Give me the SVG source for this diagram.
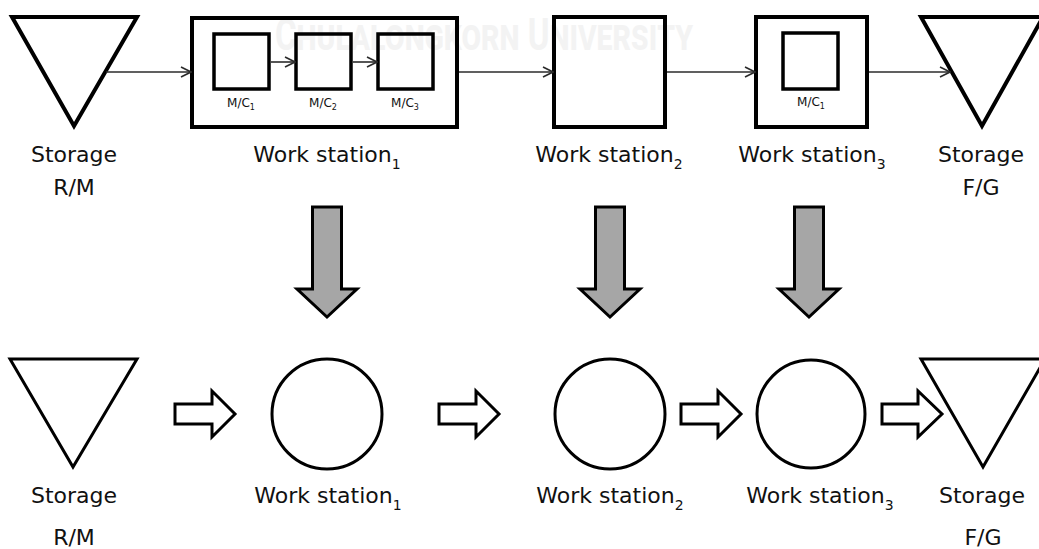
<svg xmlns="http://www.w3.org/2000/svg" width="1039" height="549" viewBox="0 0 1039 549">
  <style>
    .bg { fill: #ffffff; }
    .mark { fill: #f3f3f3; font-family: "Roboto", "DejaVu Sans", sans-serif; font-weight: 700; font-variant: small-caps; font-size: 44px; }
    .thick { fill: none; stroke: #000000; stroke-width: 4; stroke-linejoin: miter; }
    .mid { fill: none; stroke: #000000; stroke-width: 3.5; stroke-linejoin: miter; }
    .thin { fill: none; stroke: #000000; stroke-width: 3; stroke-linejoin: miter; }
    .flow { fill: none; stroke: #2b2b2b; stroke-width: 1.6; marker-end: url(#chev); }
    .down { fill: #a6a6a6; stroke: #000000; stroke-width: 3; stroke-linejoin: miter; }
    .hollow { fill: #ffffff; stroke: #000000; stroke-width: 3; stroke-linejoin: miter; }
    .lbl { font-family: "DejaVu Sans", "Noto Sans", sans-serif; font-size: 22px; fill: #111111; text-anchor: middle; }
    .sub { font-size: 14px; }
    .mc { font-family: "DejaVu Sans", "Noto Sans", sans-serif; font-size: 12px; fill: #111111; text-anchor: middle; }
    .mcsub { font-size: 8px; }
  </style>
  <defs>
    <marker id="chev" viewBox="0 0 12 12" refX="11" refY="6" markerWidth="12" markerHeight="12" markerUnits="userSpaceOnUse" orient="auto">
      <path d="M1,1 L11,6 L1,11" fill="none" stroke="#2b2b2b" stroke-width="1.6"/>
    </marker>
  </defs>

  <rect class="bg" x="0" y="0" width="1039" height="549"/>

  <!-- faint background institution mark -->
  <text id="mark" class="mark" x="275" y="50" textLength="418" lengthAdjust="spacingAndGlyphs">Chulalongkorn University</text>

  <!-- top row: process layout -->
  <g id="storage-rm-top">
    <polygon class="thick" points="12,17 137,17 74,126"/>
    <text class="lbl" x="74" y="162">Storage</text>
    <text class="lbl" x="74" y="195">R/M</text>
  </g>

  <g id="ws1-top">
    <rect class="thick" x="192" y="18" width="265" height="109"/>
    <rect class="mid" x="214" y="34" width="55" height="55"/>
    <rect class="mid" x="296" y="34" width="55" height="55"/>
    <rect class="mid" x="378" y="34" width="55" height="55"/>
    <text class="mc" x="241" y="107">M/C<tspan class="mcsub" dy="3">1</tspan></text>
    <text class="mc" x="323" y="107">M/C<tspan class="mcsub" dy="3">2</tspan></text>
    <text class="mc" x="405" y="107">M/C<tspan class="mcsub" dy="3">3</tspan></text>
    <text class="lbl" x="327" y="162">Work station<tspan class="sub" dy="7">1</tspan></text>
  </g>

  <g id="ws2-top">
    <rect class="thick" x="554" y="17" width="111" height="110"/>
    <text class="lbl" x="609" y="162">Work station<tspan class="sub" dy="7">2</tspan></text>
  </g>

  <g id="ws3-top">
    <rect class="thick" x="756" y="17" width="111" height="110"/>
    <rect class="mid" x="783" y="33" width="55" height="56"/>
    <text class="mc" x="811" y="106">M/C<tspan class="mcsub" dy="3">1</tspan></text>
    <text class="lbl" x="812" y="162">Work station<tspan class="sub" dy="7">3</tspan></text>
  </g>

  <g id="storage-fg-top">
    <polygon class="thick" points="921,17 1043,17 982,126"/>
    <text class="lbl" x="981" y="162">Storage</text>
    <text class="lbl" x="981" y="195">F/G</text>
  </g>

  <!-- bottom row: simplified flow -->
  <g id="storage-rm-bottom">
    <polygon class="thin" points="10,359 137,359 73,467"/>
    <text class="lbl" x="74" y="503">Storage</text>
    <text class="lbl" x="74" y="545">R/M</text>
  </g>

  <g id="ws1-bottom">
    <circle class="thin" cx="327" cy="414" r="55"/>
    <text class="lbl" x="328" y="503">Work station<tspan class="sub" dy="7">1</tspan></text>
  </g>

  <g id="ws2-bottom">
    <circle class="thin" cx="610" cy="414" r="55"/>
    <text class="lbl" x="610" y="503">Work station<tspan class="sub" dy="7">2</tspan></text>
  </g>

  <g id="ws3-bottom">
    <circle class="thin" cx="811" cy="414" r="54"/>
    <text class="lbl" x="820" y="503">Work station<tspan class="sub" dy="7">3</tspan></text>
  </g>

  <g id="storage-fg-bottom">
    <polygon class="thin" points="921,359 1045,359 983,467"/>
    <text class="lbl" x="982" y="503">Storage</text>
    <text class="lbl" x="983" y="545">F/G</text>
  </g>

  <!-- connectors, drawn last so they sit above the station boxes -->
  <g id="connectors">
    <line class="flow" x1="106" y1="72" x2="191" y2="72"/>
    <line class="flow" x1="271" y1="62" x2="295" y2="62"/>
    <line class="flow" x1="353" y1="62" x2="377" y2="62"/>
    <line class="flow" x1="459" y1="72" x2="553" y2="72"/>
    <line class="flow" x1="667" y1="72" x2="755" y2="72"/>
    <line class="flow" x1="869" y1="72" x2="950" y2="72"/>

    <polygon class="down" points="312.5,207 341.5,207 341.5,289 357,289 327,317 297,289 312.5,289"/>
    <polygon class="down" points="595.5,207 624.5,207 624.5,289 640,289 610,317 580,289 595.5,289"/>
    <polygon class="down" points="794.5,207 823.5,207 823.5,289 839,289 809,317 779,289 794.5,289"/>

    <polygon class="hollow" points="175,404 212,404 212,391 235,414 212,437 212,424 175,424"/>
    <polygon class="hollow" points="439,404 476,404 476,391 499,414 476,437 476,424 439,424"/>
    <polygon class="hollow" points="681,404 718,404 718,391 741,414 718,437 718,424 681,424"/>
    <polygon class="hollow" points="882,404 918,404 918,391 942,414 918,437 918,424 882,424"/>
  </g>
</svg>
